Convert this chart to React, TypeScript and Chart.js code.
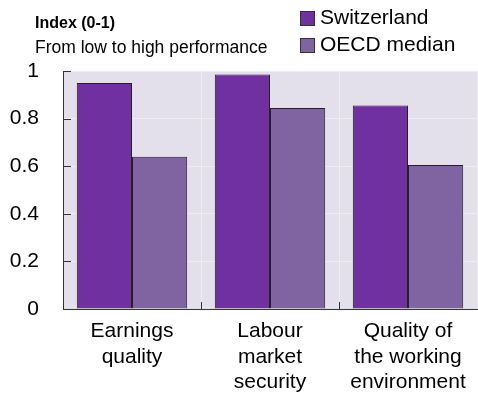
import React, { useEffect, useRef } from "react";
import { Chart, registerables } from "chart.js";

Chart.register(...registerables);

const categories: string[][] = [
  ["Earnings", "quality"],
  ["Labour", "market", "security"],
  ["Quality of", "the working", "environment"],
];
const switzerland: number[] = [0.95, 0.985, 0.855];
const oecdMedian: number[] = [0.64, 0.845, 0.605];
const seriesNames: string[] = ["Switzerland", "OECD median"];
const titleText = "Index (0-1)";
const subtitleText = "From low to high performance";

const FONT = "'Liberation Sans Narrow', 'Arial Narrow', 'Liberation Sans', Arial, sans-serif";

const overlay = {
  id: "overlay",
  beforeDraw(chart: any) {
    const { ctx, chartArea } = chart;
    ctx.save();
    ctx.fillStyle = "#e3dfeb";
    ctx.fillRect(chartArea.left, chartArea.top, chartArea.right - chartArea.left, chartArea.bottom - chartArea.top);
    ctx.restore();
  },
  afterDraw(chart: any) {
    const { ctx, chartArea } = chart;
    ctx.save();
    ctx.strokeStyle = "#333";
    ctx.lineWidth = 1;
    const y = chart.scales.y;
    for (const t of y.ticks) {
      const py = Math.round(y.getPixelForValue(t.value)) + 0.5;
      ctx.beginPath();
      ctx.moveTo(chartArea.left, py);
      ctx.lineTo(chartArea.left + 8, py);
      ctx.stroke();
    }
    const x = chart.scales.x;
    for (let i = 1; i < categories.length; i++) {
      const px = Math.round((x.getPixelForValue(i - 1) + x.getPixelForValue(i)) / 2) + 0.5;
      ctx.beginPath();
      ctx.moveTo(px, chartArea.bottom);
      ctx.lineTo(px, chartArea.bottom - 7);
      ctx.stroke();
    }
    ctx.fillStyle = "#000";
    ctx.textBaseline = "middle";
    ctx.textAlign = "left";
    ctx.font = `bold 16px ${FONT}`;
    ctx.fillText(titleText, 35, 24);
    ctx.font = `17.5px ${FONT}`;
    ctx.fillText(subtitleText, 35, 48);
    const ds = chart.data.datasets;
    ds.forEach((d: any, i: number) => {
      const ly = 18 + i * 27;
      ctx.fillStyle = d.backgroundColor;
      ctx.fillRect(300, ly - 7, 15, 15);
      ctx.strokeStyle = "#333";
      ctx.strokeRect(300.5, ly - 6.5, 14, 14);
      ctx.fillStyle = "#000";
      ctx.font = `21px ${FONT}`;
      ctx.fillText(d.label, 320, ly);
    });
    ctx.restore();
  },
};

export default function App() {
  const ref = useRef<HTMLCanvasElement>(null);
  useEffect(() => {
    document.body.style.margin = "0";
    const chart = new Chart(ref.current!, {
      type: "bar",
      data: {
        labels: categories,
        datasets: [
          {
            label: seriesNames[0],
            data: switzerland,
            backgroundColor: "#7030a0",
            borderColor: "#222",
            borderWidth: 1,
            categoryPercentage: 0.8,
            barPercentage: 1,
          },
          {
            label: seriesNames[1],
            data: oecdMedian,
            backgroundColor: "#8064a2",
            borderColor: "#222",
            borderWidth: 1,
            categoryPercentage: 0.8,
            barPercentage: 1,
          },
        ],
      },
      options: {
        animation: false,
        responsive: false,
        maintainAspectRatio: false,
        layout: { padding: { top: 71, right: 1 } },
        plugins: { legend: { display: false }, tooltip: { enabled: false } },
        scales: {
          x: {
            grid: { color: "#eeebf3", drawTicks: false, offset: true },
            border: { color: "#333", width: 1 },
            ticks: { color: "#000", font: { family: FONT, size: 21, lineHeight: 1.23 }, padding: 9, maxRotation: 0, autoSkip: false },
            afterFit: (s: any) => { s.height = 98; },
          },
          y: {
            min: 0,
            max: 1,
            grid: { color: "#eeebf3", drawTicks: false },
            border: { color: "#333", width: 1 },
            ticks: {
              stepSize: 0.2,
              color: "#000",
              font: { family: FONT, size: 21 },
              padding: 24,
              callback: (v: any) => String(Math.round(Number(v) * 10) / 10),
            },
            afterFit: (s: any) => { s.width = 63; },
          },
        },
      },
      plugins: [overlay],
    });
    return () => chart.destroy();
  }, []);
  return (
    <div style={{ position: "absolute", left: 0, top: 0, width: 478, height: 407 }}>
      <canvas ref={ref} width={478} height={407} style={{ width: 478, height: 407 }} />
    </div>
  );
}
